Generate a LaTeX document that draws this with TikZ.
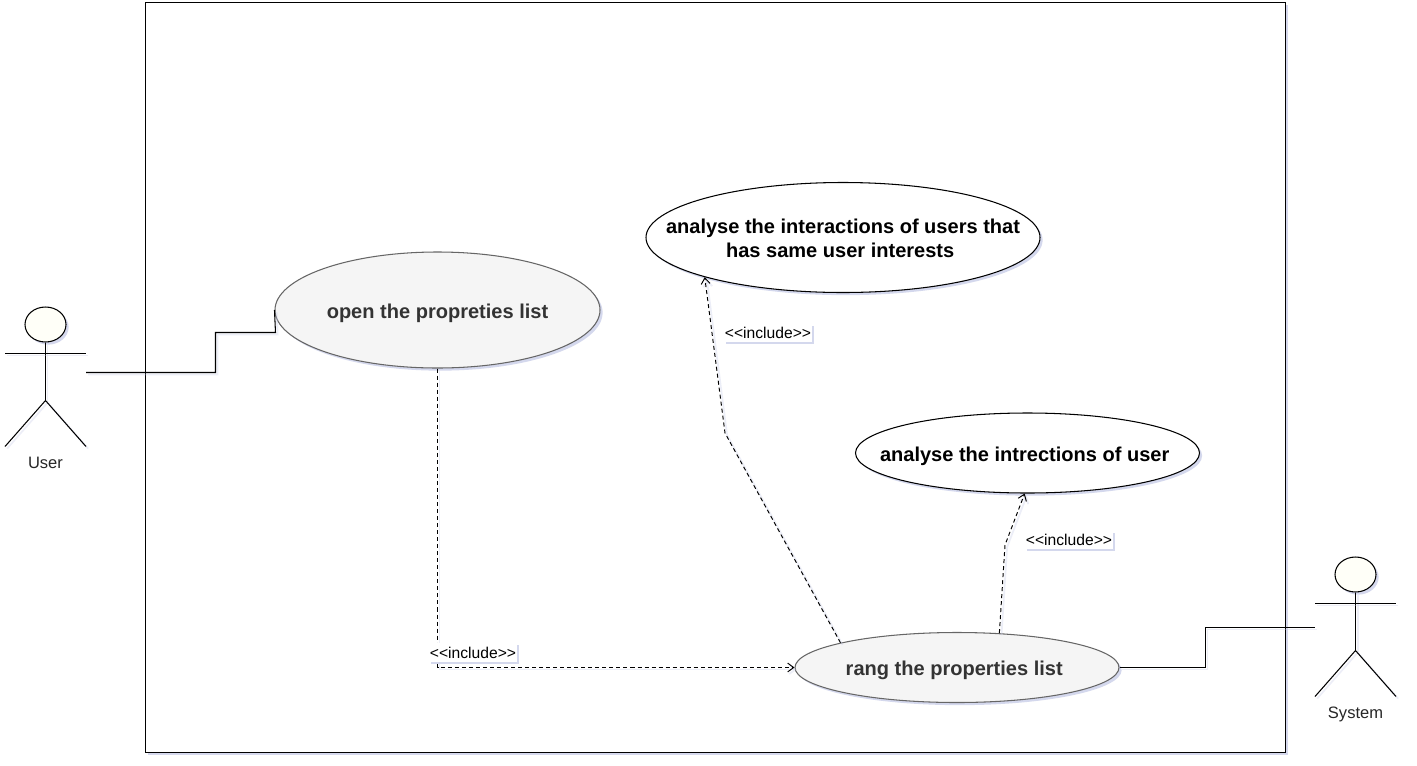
\documentclass[tikz,border=0pt]{standalone}
\usepackage{fontspec}
\setmainfont{Liberation Sans}
\usetikzlibrary{shapes.geometric, arrows.meta, shadows}
\definecolor{shadowblue}{RGB}{195, 200, 230}
\definecolor{greyfill}{RGB}{245, 245, 245}
\definecolor{greyline}{RGB}{102, 102, 102}
\definecolor{greytext}{RGB}{51, 51, 51}
\definecolor{headfill}{RGB}{255, 255, 248}
\newcommand{\inclabel}{<{}<include>{}>}
% ellipse keeps its own size, the text is only laid over it
\newcommand{\casetext}[1]{\makebox[0pt]{\raisebox{-4.7pt}[0pt][0pt]{\begin{tabular}{@{}c@{}}#1\end{tabular}}}}
\newcommand{\tailspace}{~\mbox{}}
\tikzset{
    softshadow/.style={drop shadow={shadow xshift=1.5pt, shadow yshift=-1.5pt, fill=shadowblue, opacity=0.7}},
    lineshadow/.style={preaction={draw=shadowblue, opacity=0.3, line width=1pt, transform canvas={shift={(1.2pt,-1.2pt)}}}},
    usecase/.style={ellipse, draw, fill=white, softshadow, inner sep=0pt, line width=0.6pt, font=\fontsize{11.4}{13.6}\selectfont\bfseries},
    greycase/.style={usecase, fill=greyfill, draw=greyline, text=greytext},
    incbox/.style={fill=white, inner sep=0pt, minimum height=18.5*0.02cm, minimum width=88*0.02cm, drop shadow={shadow xshift=1.1pt, shadow yshift=-1.1pt, fill=shadowblue, opacity=0.7}, font=\fontsize{8.9}{10.6}\selectfont},
    assoc/.style={line width=0.6pt, lineshadow},
    incline/.style={line width=0.55pt, dash pattern=on 2.3pt off 1.7pt, lineshadow, -{Straight Barb[length=3.4pt, width=5pt]}},
    actorhead/.style={ellipse, draw, fill=headfill, softshadow, line width=0.6pt, inner sep=0pt, minimum width=41*0.02cm, minimum height=35*0.02cm},
    actortext/.style={text=black!85, anchor=base, font=\fontsize{9.4}{11}\selectfont}
}
\begin{document}
\begin{tikzpicture}[x=0.02cm, y=-0.02cm]
    \useasboundingbox (0,0) rectangle (1417,765);

    % System boundary
    \node[draw, fill=white, softshadow, line width=0.6pt, minimum width=1140*0.02cm, minimum height=750*0.02cm] (boundary) at (715.5,377.5) {};

    % Actors
    \foreach \name/\x/\y/\txt in {user/45.5/324.5/User, system/1355.5/574.5/System} {
        \node[actorhead] (\name head) at (\x,\y) {};
        \coordinate (\name hip) at (\x,\y+76);
        \coordinate (\name larm) at (\x-40.5,\y+29);
        \coordinate (\name rarm) at (\x+40.5,\y+29);
        \coordinate (\name lfoot) at (\x-40.5,\y+122);
        \coordinate (\name rfoot) at (\x+40.5,\y+122);
        \draw[assoc] (\name head.south) -- (\name hip);
        \draw[assoc] (\name larm) -- (\name rarm);
        \draw[assoc] (\name lfoot) -- (\name hip) -- (\name rfoot);
        \node[actortext] (\name label) at (\x,\y+144) {\txt};
    }
    \coordinate (userport) at (86,372.5);
    \coordinate (systemport) at (1315,627.5);

    % Use cases
    \node[greycase, minimum width=325*0.02cm, minimum height=116*0.02cm] (openlist) at (437.5,310) {\casetext{open the propreties list}};
    \node[usecase, minimum width=394*0.02cm, minimum height=110*0.02cm] (sameusers) at (843,237.5) {\casetext{analyse the interactions of users that\\has same user interests\tailspace}};
    \node[usecase, minimum width=344*0.02cm, minimum height=80*0.02cm] (oneuser) at (1027.5,453) {\casetext{analyse the intrections of user\tailspace}};
    \node[greycase, minimum width=324*0.02cm, minimum height=70*0.02cm] (ranglist) at (957,667.5) {\casetext{rang the properties list\tailspace}};

    % Associations
    \draw[assoc] (userport) -- (215.5,372.5) -- (215.5,332.5) -- (275.5,332.5) -- (openlist.west);
    \draw[assoc] (ranglist.east) -- (1205.5,667.5) -- (1205.5,627.5) -- (systemport);

    % Includes
    \draw[incline] (openlist.south) -- (437.5,667.5) -- (ranglist.west);
    \draw[incline] (ranglist.168.3) -- (725,433) -- (sameusers.196);
    \draw[incline] (ranglist.39.4) -- (1005,545) -- (oneuser.266);

    \node[incbox] (inc1) at (473,652.5) {\inclabel};
    \node[incbox] (inc2) at (768,333) {\inclabel};
    \node[incbox] (inc3) at (1069,540) {\inclabel};
\end{tikzpicture}
\end{document}
